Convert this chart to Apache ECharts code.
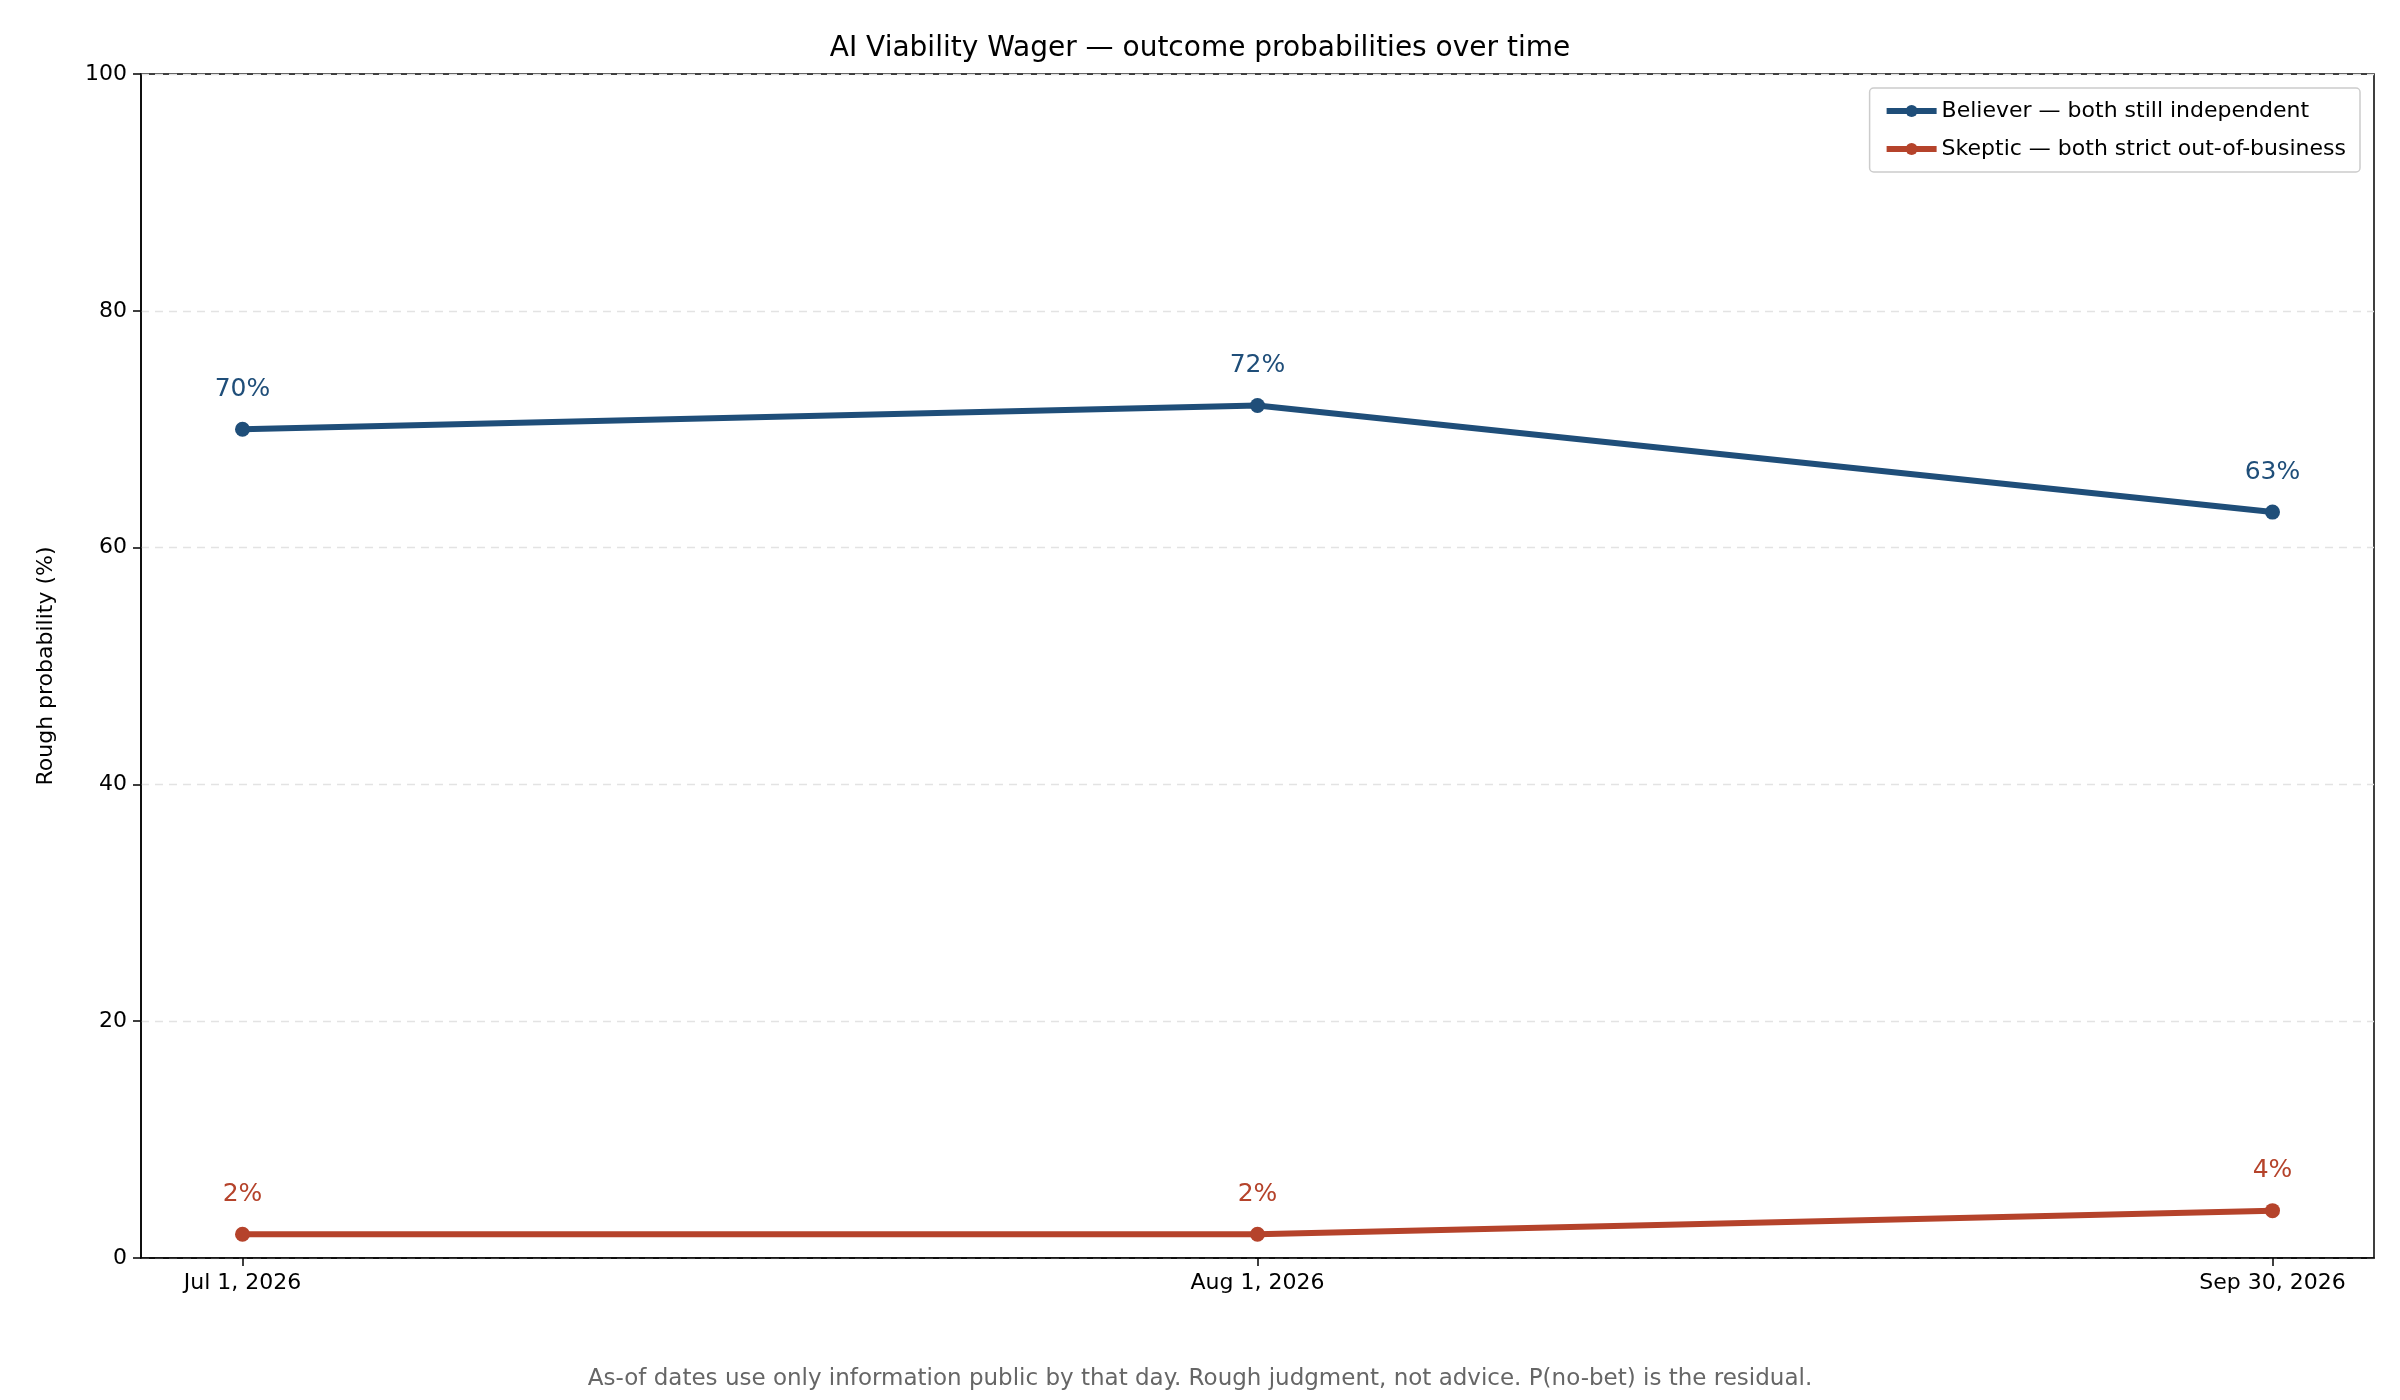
<!DOCTYPE html>
<html><head><meta charset="utf-8">
<script src="https://cdn.jsdelivr.net/npm/echarts@6/dist/echarts.min.js"></script>
<style>html,body{margin:0;padding:0;background:#fff}#c{width:2400px;height:1400px}</style>
</head><body><div id="c"></div>
<script>
const categories = ["Jul 1, 2026", "Aug 1, 2026", "Sep 30, 2026"];
const believer = [70, 72, 63];
const skeptic = [2, 2, 4];
const yTicks = [0, 20, 40, 60, 80, 100];
const F = "DejaVu Sans";
const chart = echarts.init(document.getElementById('c'));
const mk = (name, vals, color) => ({
  name, type: 'line', data: vals.map((v, i) => [i, v]),
  lineStyle: {width: 6, color}, itemStyle: {color},
  symbol: 'circle', symbolSize: 15,
  label: {show: true, position: 'top', distance: 20, formatter: p => p.value[1] + '%', color, fontFamily: F, fontSize: 25},
  z: 3
});
chart.setOption({
  animation: false,
  title: {text: 'AI Viability Wager — outcome probabilities over time', left: 'center', top: 30,
    textStyle: {fontFamily: F, fontSize: 28, fontWeight: 'normal', color: '#000'}},
  legend: {right: 40, top: 88, orient: 'vertical', itemWidth: 50, itemHeight: 15, itemGap: 16,
    lineStyle: {width: 6}, borderColor: '#ccc', borderWidth: 1.5, borderRadius: 4, padding: [12, 14],
    textStyle: {fontFamily: F, fontSize: 22, color: '#000'}},
  grid: {left: 141, right: 26, top: 74, bottom: 142, show: true, borderColor: '#000', borderWidth: 1.5},
  xAxis: {type: 'value', min: -0.1, max: 2.1,
    axisLabel: {customValues: [0, 1, 2], formatter: v => categories[Math.round(v)] ?? '', fontFamily: F, fontSize: 22, color: '#000', margin: 14},
    axisTick: {show: true, length: 8, lineStyle: {color: '#000', width: 1.5}, customValues: [0, 1, 2]},
    axisLine: {onZero: false, lineStyle: {color: '#000', width: 1.5}}, splitLine: {show: false}},
  yAxis: {type: 'value', min: 0, max: 100, interval: 20,
    name: 'Rough probability (%)', nameLocation: 'middle', nameGap: 84, nameTextStyle: {fontFamily: F, fontSize: 22, color: '#000'},
    axisLabel: {fontFamily: F, fontSize: 22, color: '#000', margin: 14},
    axisTick: {show: true, length: 8, lineStyle: {color: '#000', width: 1.5}},
    axisLine: {show: true, onZero: false, lineStyle: {color: '#000', width: 1.5}},
    splitLine: {lineStyle: {type: [8, 6], color: '#e3e3e3', width: 1.3}}},
  graphic: [{type: 'text', left: 'center', top: 1368, style: {text: 'As-of dates use only information public by that day. Rough judgment, not advice. P(no-bet) is the residual.', fontFamily: F, fontSize: 23, fill: '#666'}}],
  series: [mk('Believer — both still independent', believer, '#1f4e79'), mk('Skeptic — both strict out-of-business', skeptic, '#b5432b')]
});
</script></body></html>
